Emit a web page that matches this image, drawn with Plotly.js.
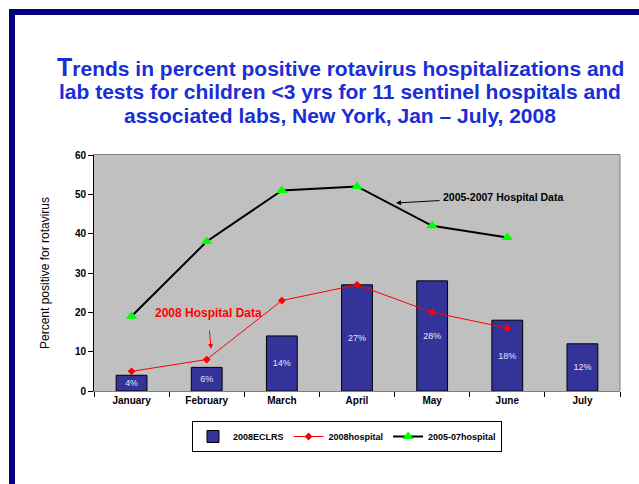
<!DOCTYPE html>
<html>
<head>
<meta charset="utf-8">
<script src="https://cdn.plot.ly/plotly-3.0.1.min.js"></script>
<style>
html,body{margin:0;padding:0;background:#fff;}
#wrap{position:relative;width:639px;height:484px;overflow:hidden;}
#chart{position:absolute;left:0;top:0;width:639px;height:484px;}
.frame{position:absolute;background:#000080;z-index:5;}
</style>
</head>
<body>
<div id="wrap">
<div id="chart"></div>
<div class="frame" style="left:9px;top:9px;width:630px;height:6px;"></div>
<div class="frame" style="left:9px;top:9px;width:6px;height:475px;"></div>
</div>
<script>
const months = ["January","February","March","April","May","June","July"];
const eclrs2008 = [4, 6, 14, 27, 28, 18, 12];
const eclrsLabels = ["4%","6%","14%","27%","28%","18%","12%"];
const hospital2008Months = ["January","February","March","April","May","June"];
const hospital2008 = [5, 8, 23, 27, 20, 16];
const hospital0507Months = ["January","February","March","April","May","June"];
const hospital0507 = [19, 38, 51, 52, 42, 39];
const titleLines = [
  "<span style='font-size:25px'>T</span>rends in percent positive rotavirus hospitalizations and",
  "lab tests for children &lt;3 yrs for 11 sentinel hospitals and",
  "associated labs, New York, Jan – July, 2008"
];

const FONT = "Liberation Sans, Arial, sans-serif";
const W = 639, H = 484, L = 94, R = 19, T = 155, B = 93;
const pw = W - L - R, ph = H - T - B;
const px = p => (p - L) / pw;
const py = p => (H - B - p) / ph;

const traces = [
  {
    type: "bar", name: "2008ECLRS", x: months, y: eclrs2008,
    text: eclrsLabels, textposition: "inside", insidetextanchor: "middle",
    textangle: 0,
    textfont: {family: FONT, size: 9, color: "#e6e6ff"},
    marker: {color: "#333399", line: {color: "#000000", width: 1}},
    hoverinfo: "none"
  },
  {
    type: "scatter", mode: "lines+markers", name: "2008hospital",
    x: hospital2008Months, y: hospital2008,
    line: {color: "#ff0000", width: 1},
    marker: {symbol: "diamond", size: 6, color: "#ff0000"},
    cliponaxis: false
  },
  {
    type: "scatter", mode: "lines+markers", name: "2005-07hospital",
    x: hospital0507Months, y: hospital0507,
    line: {color: "#000000", width: 2},
    marker: {symbol: "triangle-up", size: 10, color: "#00ff00"},
    cliponaxis: false
  }
];

const titleY = [67, 91, 115];
const titleAnn = titleLines.map((t, i) => ({
  text: t, xref: "paper", yref: "paper", x: px(340), y: py(titleY[i]),
  xanchor: "center", yanchor: "middle", showarrow: false,
  font: {family: FONT, size: 21, color: "#1a2ed6", weight: "bold"}
}));

const layout = {
  width: W, height: H,
  paper_bgcolor: "#ffffff", plot_bgcolor: "#c0c0c0",
  margin: {l: L, r: R, t: T, b: B},
  font: {family: FONT, color: "#000000"},
  showlegend: true,
  bargap: 0.59,
  xaxis: {
    type: "category", tickson: "boundaries", ticks: "outside", ticklen: 5,
    tickcolor: "#000000", showline: true, linecolor: "#808080", linewidth: 1,
    mirror: true, showgrid: false, zeroline: false,
    tickfont: {family: FONT, size: 10, color: "#000000", weight: "bold"},
    range: [-0.5, 6.5]
  },
  yaxis: {
    range: [0, 60], dtick: 10, ticks: "outside", ticklen: 5, tickcolor: "#000000",
    showline: true, linecolor: "#000000", linewidth: 1, showgrid: false, zeroline: false,
    tickfont: {family: FONT, size: 10, color: "#000000", weight: "bold"},
    title: {text: "Percent positive for rotavirus", standoff: 22,
            font: {family: FONT, size: 12, color: "#000000"}}
  },
  shapes: [
    {type: "line", xref: "paper", yref: "paper", x0: 1, x1: 1, y0: 0, y1: 1,
     line: {color: "#808080", width: 1}}
  ],
  legend: {
    orientation: "h", xref: "paper", x: px(347), xanchor: "center",
    y: py(421), yanchor: "top",
    bgcolor: "#ffffff", bordercolor: "#000000", borderwidth: 1,
    font: {family: FONT, size: 9, color: "#000000", weight: "bold"},
    itemwidth: 30, tracegroupgap: 0
  },
  annotations: titleAnn.concat([
    {
      text: "2005-2007 Hospital Data", xref: "x", yref: "y",
      x: 3.52, y: 47.8, ax: 107, ay: -6,
      showarrow: true, arrowhead: 2, arrowsize: 1, arrowwidth: 1, arrowcolor: "#000000",
      startstandoff: 2,
      font: {family: FONT, size: 10.5, color: "#000000", weight: "bold"}
    },
    {
      text: "2008 Hospital Data", xref: "x", yref: "y",
      x: 1.057, y: 10.7, ax: -3, ay: -36,
      showarrow: true, arrowhead: 2, arrowsize: 1, arrowwidth: 1, arrowcolor: "#ff0000",
      startstandoff: 9,
      font: {family: FONT, size: 12, color: "#ff0000", weight: "bold"}
    }
  ])
};

Plotly.newPlot("chart", traces, layout, {displayModeBar: false, staticPlot: true});
</script>
</body>
</html>
